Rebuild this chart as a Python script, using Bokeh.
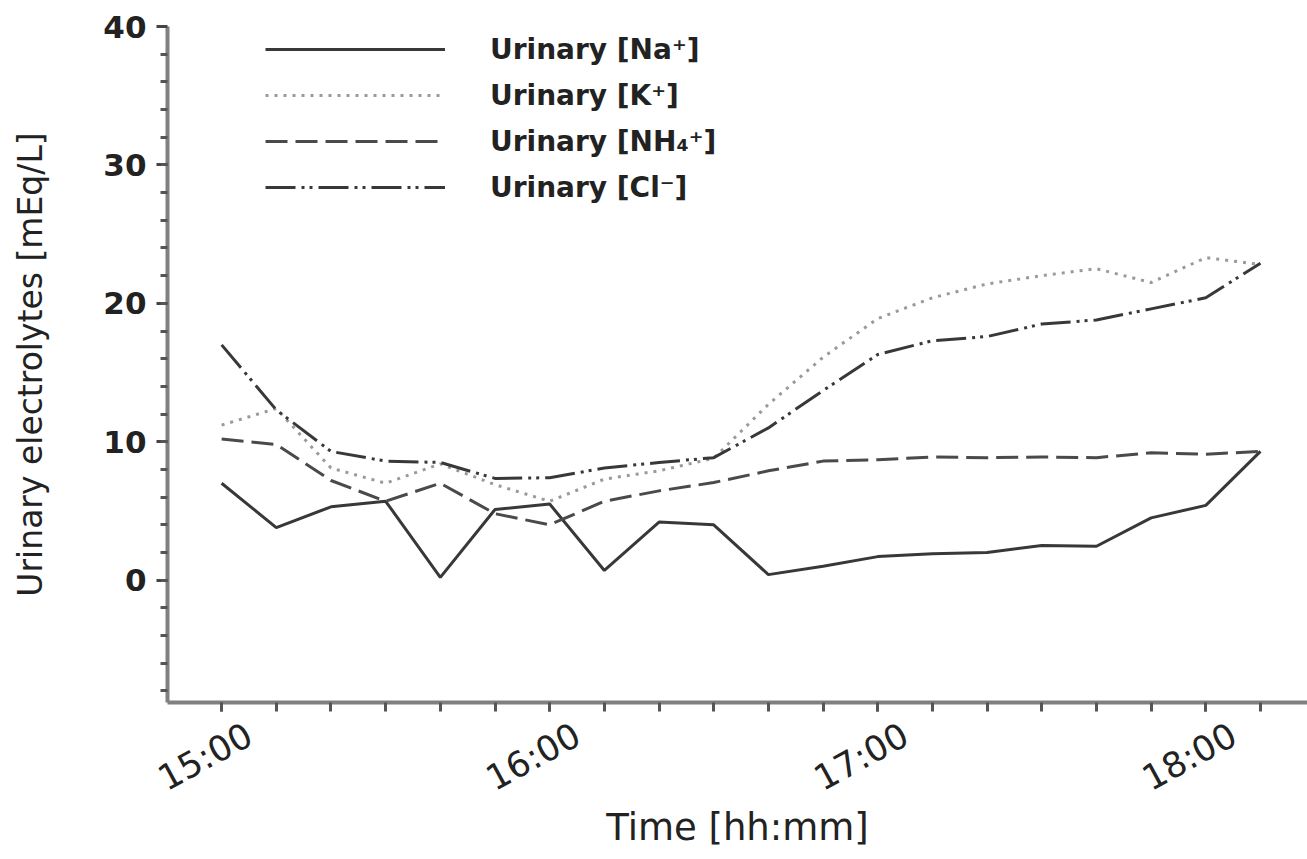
from bokeh.plotting import figure
from bokeh.models import FixedTicker, Range1d, Legend, LegendItem, LinearAxis
from bokeh.embed import file_html
from bokeh.resources import INLINE

# Sampling times, minutes after midnight (15:00 .. 18:10, every 10 min)
times = [900, 910, 920, 930, 940, 950, 960, 970, 980, 990,
         1000, 1010, 1020, 1030, 1040, 1050, 1060, 1070, 1080, 1090]

# Urinary electrolyte concentrations [mEq/L]
sodium = [7.0, 3.8, 5.3, 5.7, 0.2, 5.1, 5.5, 0.7, 4.2, 4.0,
          0.4, 1.0, 1.7, 1.9, 2.0, 2.5, 2.45, 4.5, 5.4, 9.3]
potassium = [11.2, 12.4, 8.1, 7.0, 8.4, 6.9, 5.7, 7.3, 7.9, 8.8,
             12.7, 16.1, 18.9, 20.4, 21.4, 22.0, 22.5, 21.5, 23.3, 22.8]
ammonium = [10.2, 9.8, 7.2, 5.7, 7.0, 4.8, 4.0, 5.7, 6.45, 7.05,
            7.9, 8.6, 8.7, 8.9, 8.85, 8.9, 8.85, 9.2, 9.1, 9.3]
chloride = [17.0, 12.3, 9.3, 8.6, 8.5, 7.35, 7.4, 8.1, 8.5, 8.85,
            11.0, 13.7, 16.3, 17.3, 17.6, 18.5, 18.8, 19.6, 20.4, 22.9]

series_labels = ["Urinary [Na\u207a]", "Urinary [K\u207a]",
                 "Urinary [NH\u2084\u207a]", "Urinary [Cl\u207b]"]

hour_ticks = [900, 960, 1020, 1080]
hour_labels = ["15:00", "16:00", "17:00", "18:00"]
y_ticks = [0, 10, 20, 30, 40]

FONT = "DejaVu Sans"
INK = "#222222"
X0, X1 = 890.1, 1098.6

p = figure(width=1307, height=859, output_backend="svg", toolbar_location=None,
           x_range=Range1d(X0, X1), y_range=Range1d(-8.84, 40),
           min_border_left=167, min_border_right=0, min_border_top=26,
           min_border_bottom=157)
p.outline_line_color = None
p.xgrid.visible = False
p.ygrid.visible = False
p.background_fill_color = "white"

r_na = p.line(times, sodium, line_color="#383838", line_width=3)
r_k = p.line(times, potassium, line_color="#9a9a9a", line_width=3,
             line_dash="3 6")
r_nh = p.line(times, ammonium, line_color="#4a4a4a", line_width=3,
              line_dash="22 8")
r_cl = p.line(times, chloride, line_color="#383838", line_width=3,
              line_dash="30 6 3 5 3 6")

# x axis line with a tick every 10 minutes
xa = p.xaxis[0]
xa.ticker = FixedTicker(ticks=hour_ticks, minor_ticks=times)
xa.major_label_overrides = {t: "" for t in hour_ticks}
xa.major_label_text_font_size = "0px"
xa.major_label_standoff = 0
xa.axis_line_color = "#808080"
xa.axis_line_width = 4
xa.major_tick_line_color = "#555555"
xa.minor_tick_line_color = "#555555"
xa.major_tick_line_width = 3
xa.minor_tick_line_width = 3
xa.major_tick_in = 0
xa.major_tick_out = 9
xa.minor_tick_in = 0
xa.minor_tick_out = 9

# slanted hour labels, set slightly to the right of their ticks
p.extra_x_ranges = {"hour_labels": Range1d(X0 - 5.1, X1 - 5.1)}
la = LinearAxis(x_range_name="hour_labels",
                ticker=FixedTicker(ticks=hour_ticks, minor_ticks=[]))
la.major_label_overrides = dict(zip(hour_ticks, hour_labels))
la.major_label_orientation = 0.5
la.axis_line_color = None
la.major_tick_line_color = None
la.minor_tick_line_color = None
la.major_tick_out = 0
la.major_tick_in = 0
la.major_label_standoff = 21
la.major_label_text_font = FONT
la.major_label_text_font_size = "35px"
la.major_label_text_color = INK
la.axis_label = "Time [hh:mm]"
la.axis_label_text_font = FONT
la.axis_label_text_font_size = "37px"
la.axis_label_text_font_style = "normal"
la.axis_label_text_color = INK
la.axis_label_standoff = -13
p.add_layout(la, "below")

# y axis
ya = p.yaxis[0]
ya.ticker = FixedTicker(ticks=y_ticks, minor_ticks=list(range(-8, 40, 2)))
ya.axis_line_color = "#808080"
ya.axis_line_width = 4
ya.major_tick_line_color = "#444444"
ya.minor_tick_line_color = "#555555"
ya.major_tick_line_width = 3
ya.minor_tick_line_width = 3
ya.major_tick_in = 0
ya.major_tick_out = 11
ya.minor_tick_in = 0
ya.minor_tick_out = 7
ya.major_label_text_font = FONT
ya.major_label_text_font_size = "31px"
ya.major_label_text_font_style = "bold"
ya.major_label_text_color = INK
ya.major_label_standoff = 10
ya.axis_label = "Urinary electrolytes [mEq/L]"
ya.axis_label_text_font = FONT
ya.axis_label_text_font_size = "33px"
ya.axis_label_text_font_style = "normal"
ya.axis_label_text_color = INK
ya.axis_label_standoff = 50

legend = Legend(items=[LegendItem(label=lab, renderers=[r])
                       for lab, r in zip(series_labels, [r_na, r_k, r_nh, r_cl])],
                location=(98, 492))
legend.glyph_width = 180
legend.glyph_height = 46
legend.label_height = 46
legend.label_standoff = 45
legend.padding = 0
legend.spacing = 0
legend.margin = 0
legend.border_line_alpha = 0
legend.background_fill_alpha = 0
legend.label_text_font = FONT
legend.label_text_font_size = "28px"
legend.label_text_font_style = "bold"
legend.label_text_color = INK
p.add_layout(legend, "center")

open("out.html", "w").write(file_html(p, INLINE))
